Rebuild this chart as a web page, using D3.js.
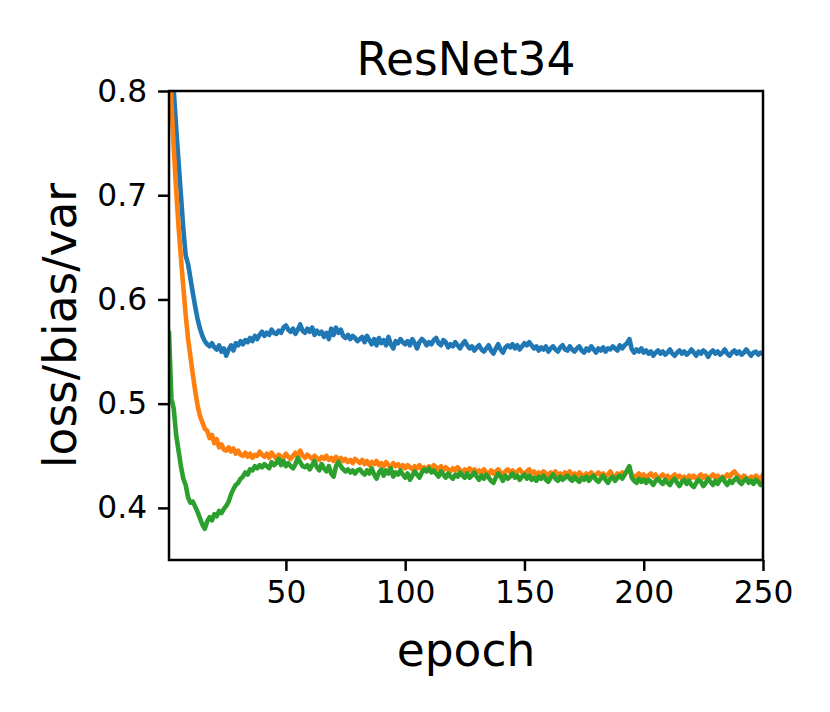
<!DOCTYPE html>
<html>
<head>
<meta charset="utf-8">
<script src="https://cdn.jsdelivr.net/npm/d3@7"></script>
<style>
  body { margin: 0; background: #fff; }
  svg text { font-family: "DejaVu Sans", sans-serif; fill: #000; }
</style>
</head>
<body>
<svg id="chart" width="830" height="712"></svg>
<script>
// data, epochs 1..250
const epochs = d3.range(1, 251);
const xTicks = [50, 100, 150, 200, 250];
const yTicks = [0.4, 0.5, 0.6, 0.7, 0.8];

const lossVals = [
  0.870,0.835,0.800,0.765,0.732,0.700,0.668,0.642,0.634,0.620,
  0.606,0.593,0.581,0.572,0.565,0.560,0.557,0.555,0.558,0.554,
  0.552,0.556,0.550,0.553,0.546,0.552,0.556,0.551,0.558,0.556,
  0.560,0.557,0.561,0.559,0.563,0.560,0.565,0.562,0.566,0.569,
  0.565,0.568,0.566,0.571,0.568,0.567,0.570,0.568,0.573,0.575,
  0.571,0.569,0.572,0.567,0.571,0.576,0.570,0.568,0.572,0.569,
  0.573,0.566,0.570,0.567,0.569,0.564,0.568,0.562,0.572,0.566,
  0.573,0.568,0.571,0.565,0.563,0.566,0.562,0.565,0.563,0.560,
  0.562,0.564,0.559,0.565,0.561,0.557,0.562,0.556,0.563,0.558,
  0.561,0.556,0.564,0.557,0.553,0.560,0.558,0.562,0.559,0.557,
  0.560,0.556,0.562,0.558,0.553,0.559,0.562,0.560,0.556,0.559,
  0.557,0.561,0.563,0.558,0.556,0.561,0.559,0.554,0.557,0.555,
  0.559,0.556,0.553,0.557,0.560,0.556,0.553,0.555,0.551,0.554,
  0.556,0.552,0.550,0.553,0.556,0.551,0.548,0.553,0.557,0.552,
  0.549,0.554,0.556,0.554,0.557,0.553,0.556,0.552,0.555,0.558,
  0.556,0.559,0.556,0.553,0.555,0.551,0.554,0.552,0.555,0.550,
  0.553,0.555,0.552,0.550,0.554,0.556,0.552,0.551,0.555,0.552,
  0.550,0.553,0.555,0.551,0.549,0.553,0.551,0.555,0.552,0.549,
  0.553,0.551,0.554,0.550,0.553,0.552,0.555,0.553,0.551,0.556,
  0.553,0.556,0.558,0.562,0.552,0.549,0.552,0.550,0.553,0.549,
  0.551,0.548,0.550,0.546,0.549,0.551,0.548,0.550,0.547,0.549,
  0.552,0.548,0.546,0.549,0.551,0.548,0.550,0.547,0.549,0.552,
  0.549,0.546,0.550,0.548,0.551,0.549,0.545,0.549,0.551,0.548,
  0.550,0.547,0.549,0.552,0.548,0.546,0.549,0.551,0.548,0.550,
  0.547,0.549,0.552,0.549,0.546,0.549,0.550,0.547,0.549,0.548
];

const biasVals = [
  0.840,0.790,0.745,0.705,0.670,0.640,0.612,0.585,0.562,0.545,
  0.528,0.512,0.498,0.488,0.482,0.476,0.474,0.467,0.470,0.462,
  0.466,0.458,0.461,0.456,0.455,0.458,0.454,0.457,0.452,0.455,
  0.451,0.450,0.453,0.449,0.452,0.448,0.451,0.450,0.454,0.451,
  0.449,0.452,0.448,0.453,0.450,0.447,0.451,0.449,0.448,0.452,
  0.449,0.447,0.450,0.453,0.449,0.455,0.450,0.448,0.451,0.449,
  0.447,0.450,0.448,0.446,0.449,0.447,0.450,0.446,0.448,0.445,
  0.449,0.446,0.448,0.445,0.447,0.444,0.446,0.443,0.447,0.445,
  0.443,0.446,0.442,0.445,0.441,0.444,0.442,0.445,0.441,0.443,
  0.440,0.444,0.441,0.439,0.443,0.440,0.442,0.439,0.441,0.438,
  0.441,0.439,0.437,0.440,0.438,0.441,0.437,0.439,0.436,0.440,
  0.438,0.441,0.439,0.437,0.440,0.436,0.439,0.437,0.435,0.438,
  0.436,0.439,0.436,0.434,0.437,0.435,0.438,0.435,0.437,0.434,
  0.436,0.433,0.437,0.434,0.432,0.436,0.433,0.435,0.437,0.434,
  0.432,0.435,0.437,0.434,0.436,0.433,0.435,0.437,0.434,0.432,
  0.435,0.437,0.433,0.435,0.432,0.434,0.431,0.435,0.433,0.430,
  0.434,0.432,0.435,0.431,0.433,0.430,0.434,0.432,0.435,0.431,
  0.433,0.430,0.434,0.432,0.429,0.433,0.431,0.434,0.430,0.432,
  0.434,0.431,0.433,0.430,0.432,0.435,0.431,0.429,0.433,0.431,
  0.434,0.432,0.435,0.437,0.432,0.429,0.431,0.433,0.430,0.432,
  0.429,0.431,0.433,0.430,0.432,0.428,0.430,0.432,0.429,0.431,
  0.428,0.430,0.432,0.429,0.431,0.428,0.430,0.427,0.431,0.429,
  0.431,0.428,0.430,0.432,0.429,0.431,0.428,0.430,0.432,0.429,
  0.431,0.428,0.430,0.429,0.432,0.430,0.433,0.435,0.432,0.430,
  0.428,0.431,0.429,0.427,0.430,0.428,0.431,0.429,0.427,0.432
];

const varVals = [
  0.568,0.505,0.495,0.470,0.455,0.440,0.428,0.422,0.410,0.405,
  0.406,0.401,0.396,0.390,0.384,0.380,0.387,0.391,0.388,0.394,
  0.392,0.397,0.395,0.399,0.402,0.406,0.413,0.418,0.422,0.424,
  0.428,0.430,0.434,0.432,0.437,0.436,0.440,0.438,0.441,0.439,
  0.442,0.440,0.438,0.444,0.441,0.443,0.447,0.441,0.445,0.440,
  0.443,0.440,0.438,0.442,0.448,0.444,0.440,0.439,0.441,0.437,
  0.441,0.445,0.439,0.436,0.442,0.438,0.435,0.440,0.433,0.430,
  0.440,0.444,0.440,0.437,0.435,0.437,0.434,0.436,0.433,0.436,
  0.437,0.434,0.432,0.436,0.433,0.438,0.432,0.428,0.434,0.437,
  0.431,0.436,0.433,0.438,0.430,0.434,0.432,0.436,0.432,0.429,
  0.433,0.427,0.431,0.435,0.432,0.429,0.434,0.437,0.435,0.438,
  0.434,0.436,0.433,0.430,0.435,0.432,0.429,0.433,0.430,0.428,
  0.432,0.430,0.434,0.431,0.429,0.433,0.429,0.431,0.434,0.430,
  0.427,0.431,0.428,0.432,0.429,0.426,0.424,0.429,0.433,0.430,
  0.426,0.431,0.428,0.430,0.433,0.429,0.431,0.427,0.430,0.432,
  0.428,0.431,0.427,0.429,0.426,0.430,0.428,0.431,0.427,0.425,
  0.429,0.432,0.428,0.426,0.430,0.427,0.429,0.431,0.428,0.426,
  0.430,0.427,0.425,0.429,0.427,0.430,0.426,0.429,0.431,0.427,
  0.425,0.428,0.431,0.427,0.424,0.428,0.430,0.426,0.429,0.431,
  0.428,0.432,0.436,0.440,0.429,0.426,0.424,0.428,0.425,0.427,
  0.424,0.427,0.425,0.422,0.426,0.428,0.425,0.423,0.427,0.424,
  0.422,0.426,0.428,0.424,0.421,0.425,0.427,0.423,0.426,0.422,
  0.420,0.424,0.427,0.425,0.421,0.424,0.428,0.425,0.422,0.426,
  0.423,0.427,0.429,0.425,0.422,0.426,0.424,0.427,0.429,0.425,
  0.423,0.426,0.428,0.424,0.426,0.423,0.427,0.425,0.422,0.424
];

const seriesNames = ['loss', 'bias', 'var'];
const seriesColors = ['#1f77b4', '#ff7f0e', '#2ca02c'];

// layout
const W = 830, H = 712;
const margin = {left: 169, top: 91, right: W - 763, bottom: H - 560};
const iw = W - margin.left - margin.right;
const ih = H - margin.top - margin.bottom;

const svg = d3.select('#chart');
const g = svg.append('g').attr('transform', `translate(${margin.left},${margin.top})`);

const x = d3.scaleLinear().domain([1, 250]).range([0, iw]);
const y = d3.scaleLinear().domain([0.35, 0.8]).range([ih, 0]);

g.append('clipPath').attr('id', 'plotclip')
  .append('rect').attr('width', iw).attr('height', ih);

const series = [lossVals, biasVals, varVals].map((vals, i) => ({
  name: seriesNames[i], color: seriesColors[i],
  pts: epochs.map((e, j) => [e, vals[j]])
}));

const line = d3.line().x(d => x(d[0])).y(d => y(d[1]));

g.append('g').attr('clip-path', 'url(#plotclip)')
  .selectAll('path')
  .data(series)
  .join('path')
  .attr('fill', 'none')
  .attr('stroke', d => d.color)
  .attr('stroke-width', 4.6)
  .attr('stroke-linejoin', 'round')
  .attr('stroke-linecap', 'square')
  .attr('d', d => line(d.pts));

// axes
const xAxis = d3.axisBottom(x).tickValues(xTicks).tickSize(10.9).tickPadding(10).tickFormat(d3.format('d'));
const yAxis = d3.axisLeft(y).tickValues(yTicks).tickSize(10.9).tickPadding(11).tickFormat(d3.format('.1f'));

const gx = g.append('g').attr('transform', `translate(0,${ih})`).call(xAxis);
const gy = g.append('g').call(yAxis);
[gx, gy].forEach(a => {
  a.select('.domain').remove();
  a.selectAll('.tick line').attr('stroke', '#000').attr('stroke-width', 2.5);
  a.selectAll('.tick text').attr('font-size', 31.3).attr('fill', '#000');
});

// spines
g.append('rect')
  .attr('width', iw).attr('height', ih)
  .attr('fill', 'none').attr('stroke', '#000').attr('stroke-width', 2.5);

// labels
svg.append('text')
  .attr('x', margin.left + iw / 2).attr('y', 75)
  .attr('text-anchor', 'middle').attr('font-size', 45.5)
  .text('ResNet34');

svg.append('text')
  .attr('x', margin.left + iw / 2).attr('y', 666)
  .attr('text-anchor', 'middle').attr('font-size', 45.5)
  .text('epoch');

svg.append('text')
  .attr('transform', `translate(76,${margin.top + ih / 2}) rotate(-90)`)
  .attr('text-anchor', 'middle').attr('font-size', 45.5)
  .text('loss/bias/var');
</script>
</body>
</html>
